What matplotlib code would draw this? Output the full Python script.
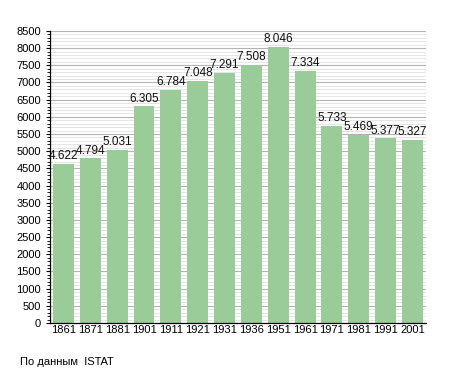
import matplotlib
matplotlib.use("Agg")
import matplotlib.pyplot as plt
import numpy as np

plt.rcParams['font.family'] = ['Liberation Sans', 'DejaVu Sans']

years = ["1861", "1871", "1881", "1901", "1911", "1921", "1931", "1936", "1951", "1961", "1971", "1981", "1991", "2001"]
population = [4622, 4794, 5031, 6305, 6784, 7048, 7291, 7508, 8046, 7334, 5733, 5469, 5377, 5327]
labels = ["4.622", "4.794", "5.031", "6.305", "6.784", "7.048", "7.291", "7.508", "8.046", "7.334", "5.733", "5.469", "5.377", "5.327"]

fig = plt.figure(figsize=(4.55, 3.73), dpi=100)
ax = fig.add_axes([0.110, 0.134, 0.826, 0.783])

x = np.arange(len(years))
for y in range(0, 8501, 100):
    if y % 500 == 0:
        ax.axhline(y, color='#b4b4b4', lw=0.8, zorder=0)
    else:
        ax.axhline(y, color='#e0e0e0', lw=0.6, zorder=0)

ax.bar(x, population, width=0.78, color='#99cc99', zorder=2)
for xi, v, lab in zip(x, population, labels):
    ax.text(xi, v + 50, lab, ha='center', va='bottom', fontsize=8.5, color='#111111', zorder=3)

ax.set_xlim(-0.5, len(years) - 0.5)
ax.set_ylim(0, 8500)
ax.set_yticks(range(0, 8501, 500))
ax.set_yticks(range(0, 8501, 100), minor=True)
ax.set_xticks(x)
ax.set_xticklabels(years)
ax.tick_params(axis='both', labelsize=8, length=3, width=0.8, colors='black')
ax.tick_params(axis='y', which='minor', length=2, width=0.6)
ax.tick_params(axis='x', length=0, pad=1.5)
for s in ['top', 'right']:
    ax.spines[s].set_visible(False)
ax.spines['left'].set_linewidth(0.9)
ax.spines['bottom'].set_linewidth(0.9)

fig.text(20 / 455, 1 - 362 / 373, "По данным  ISTAT", fontsize=8, va='center', ha='left')

fig.savefig("out.png", dpi=100)
